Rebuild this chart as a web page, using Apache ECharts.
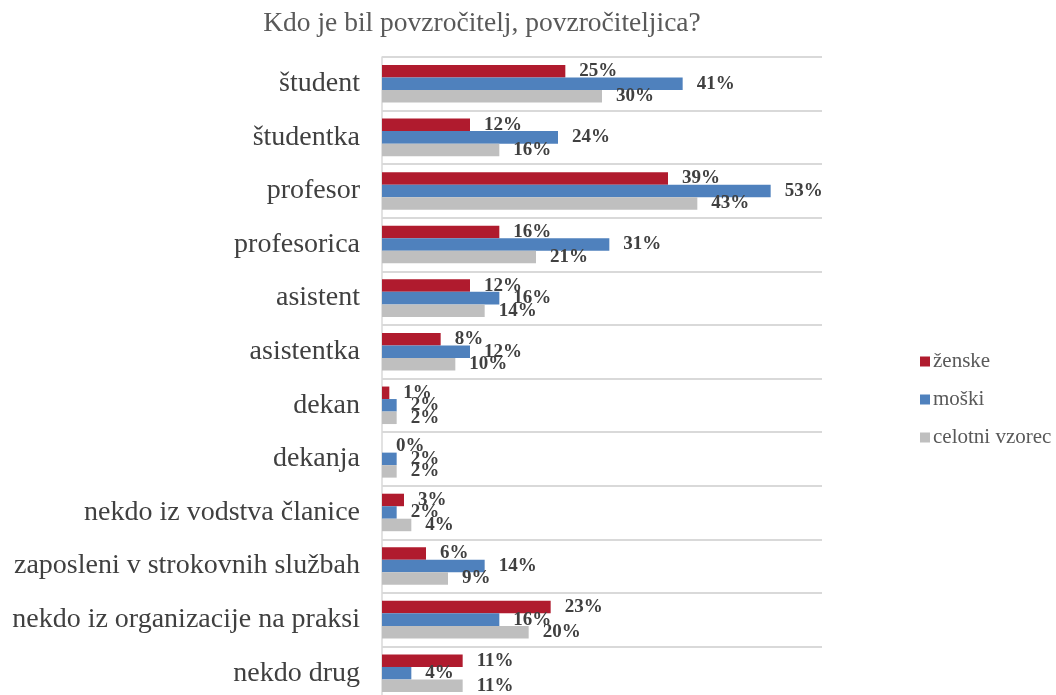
<!DOCTYPE html>
<html><head><meta charset="utf-8">
<script src="https://cdn.jsdelivr.net/npm/echarts@6/dist/echarts.min.js"></script>
<style>html,body{margin:0;padding:0;background:#fff}#c{width:1056px;height:695px}</style>
</head><body><div id="c"></div>
<script>
const categories = ['študent','študentka','profesor','profesorica','asistent','asistentka','dekan','dekanja','nekdo iz vodstva članice','zaposleni v strokovnih službah','nekdo iz organizacije na praksi','nekdo drug'];
const zenske = [25,12,39,16,12,8,1,0,3,6,23,11];
const moski = [41,24,53,31,16,12,2,2,2,14,16,4];
const celotni = [30,16,43,21,14,10,2,2,4,9,20,11];
const seriesNames = ['ženske','moški','celotni vzorec'];
const colors = ['#B01B2E','#4F81BD','#BFBFBF'];
const FONT = '"Liberation Serif", "DejaVu Serif", serif';

const chart = echarts.init(document.getElementById('c'));
const mk = (name, data, color) => ({
  name, type:'bar', data, barGap:'0%', barCategoryGap:'30%',
  itemStyle:{color},
  label:{show:true, position:'right', distance:14, formatter:'{c}%', color:'#404040', fontFamily:FONT, fontWeight:'bold', fontSize:19},
  emphasis:{disabled:true}, animation:false
});
chart.setOption({
  animation:false,
  title:{text:'Kdo je bil povzročitelj, povzročiteljica?', left:477, textAlign:'center', top:5,
    textStyle:{fontFamily:FONT, fontWeight:'normal', fontSize:27.5, color:'#595959'}},
  legend:{orient:'vertical', left:915, top:346, itemWidth:10, itemHeight:10, itemGap:17, icon:'rect',
    textStyle:{fontFamily:FONT, fontSize:21, color:'#595959', padding:[0,0,0,-2]}, data:seriesNames},
  grid:{left:382, right:234, top:57, height:643, containLabel:false, outerBoundsMode:'none'},
  xAxis:{type:'value', min:0, max:60, show:false},
  yAxis:{type:'category', data:categories, inverse:true,
    axisLine:{show:true, lineStyle:{color:'#D9D9D9', width:1.5}},
    axisTick:{show:false},
    axisLabel:{fontFamily:FONT, fontSize:28, color:'#404040', margin:22},
    splitLine:{show:true, lineStyle:{color:'#D9D9D9', width:2}}},
  series:[mk(seriesNames[0], zenske, colors[0]), mk(seriesNames[1], moski, colors[1]), mk(seriesNames[2], celotni, colors[2])]
});
</script></body></html>
